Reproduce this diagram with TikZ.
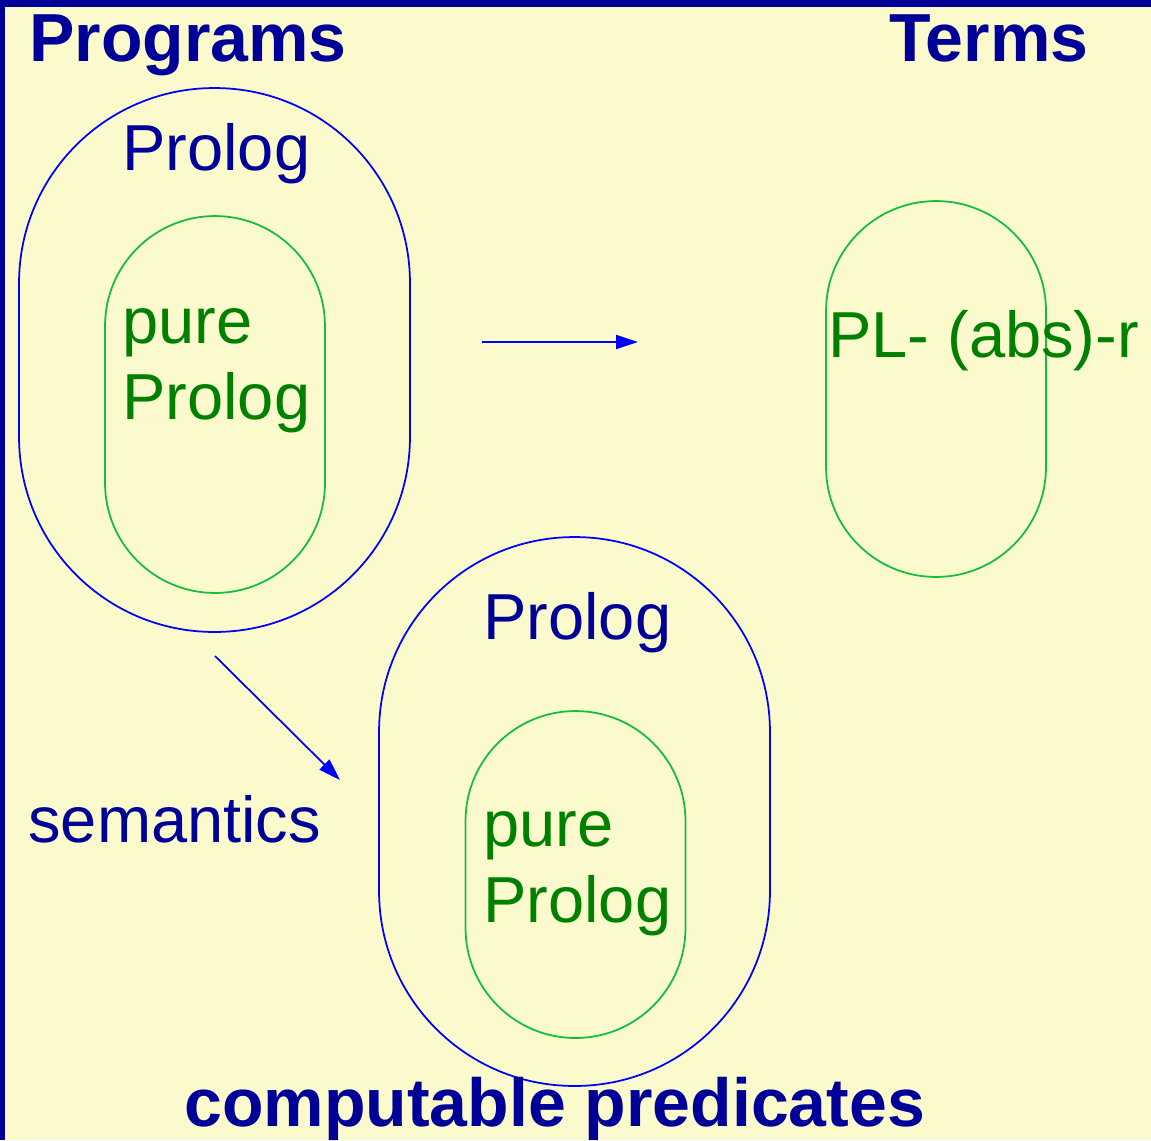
\documentclass[tikz,border=0pt]{standalone}
\usepackage{fontspec}
\setmainfont{Liberation Sans}
\usepackage{xcolor}
\usetikzlibrary{positioning, arrows.meta}

\definecolor{paper}{RGB}{250,250,205}
\definecolor{navy}{RGB}{0,0,153}
\definecolor{ringblue}{RGB}{0,0,255}
\definecolor{ringgreen}{RGB}{20,190,60}
\definecolor{textgreen}{RGB}{0,128,0}

\begin{document}
\begin{tikzpicture}[
  x=0.02cm, y=-0.02cm,
  title/.style={anchor=base west, inner sep=0, text=navy, font=\fontsize{38.7}{44}\selectfont\bfseries},
  label/.style={anchor=base west, inner sep=0, text=navy, font=\fontsize{37}{43.2}\selectfont},
  greentext/.style={label, text=textgreen, align=left},
  outer/.style={draw=ringblue, line width=1pt, rounded corners=3.9cm, minimum width=7.82cm, inner sep=0},
  inner/.style={draw=ringgreen, line width=1pt, rounded corners=2.2cm, minimum width=4.4cm, inner sep=0},
  arrow/.style={-{Triangle[length=12.5pt, width=8pt]}, draw=ringblue, line width=1pt}
]
\useasboundingbox[fill=paper] (0,0) rectangle (1151,1140);
\fill[navy] (0,0) rectangle (1151,6.5);
\fill[navy] (0,0) rectangle (5,1140);

% sets of programs
\node[outer, minimum height=10.88cm] (progOuter) at (214.5,360) {};
\node[inner, minimum height=7.54cm] (progInner) at (215,404.5) {};
% sets of terms
\node[inner, minimum height=7.52cm] (termsInner) at (936,389) {};
% computable predicates
\node[outer, minimum height=10.98cm] (predOuter) at (574.5,811.5) {};
\node[inner, minimum height=6.54cm] (predInner) at (575.5,874.5) {};

\node[title] (programs) at (29,61) {Programs};
\node[title] (terms) at (889,61) {Terms};
\node[title] (predicates) at (184,1126) {computable predicates};

\node[label] (progProlog) at (122,170) {Prolog};
\node[greentext] (progPure) at (122,419) {pure\\Prolog};
\node[greentext] (termsLabel) at (828,357) {PL- (abs)-r};
\node[label] (predProlog) at (483,639) {Prolog};
\node[greentext] (predPure) at (483,922) {pure\\Prolog};
\node[label] (semantics) at (28,842) {semantics};

\coordinate (mapFrom) at (482,342);
\coordinate (mapTo) at (638,342);
\coordinate (semFrom) at (215,656);
\coordinate (semTo) at (340,780);

\draw[arrow] (mapFrom) -- (mapTo);
\draw[arrow] (semFrom) -- (semTo);

\end{tikzpicture}
\end{document}
